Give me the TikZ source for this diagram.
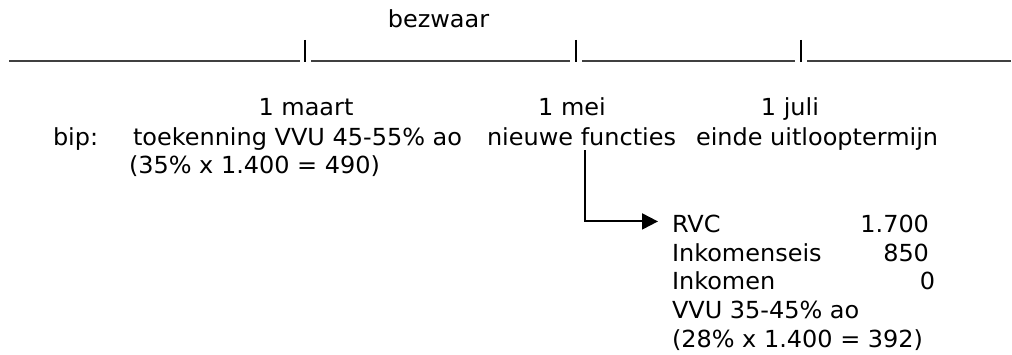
\documentclass[tikz,border=0pt]{standalone}
\usepackage{fontspec}
\setmainfont{DejaVu Sans}[FakeStretch=1.02]
\usetikzlibrary{arrows.meta}
\tikzset{
  txt/.style={inner sep=0pt, outer sep=0pt, font=\fontsize{23.5}{28}\selectfont, text=black},
  lw/.style={anchor=base west},
  lc/.style={anchor=base},
  le/.style={anchor=base east},
  tl/.style={line width=1.4pt, draw=black!75},
  bar/.style={line width=2pt, draw=black},
  arr/.style={line width=2pt, draw=black, -{Triangle[length=16pt,width=16pt]}}
}
\begin{document}
\begin{tikzpicture}[x=1pt,y=-1pt]
\useasboundingbox (0,0) rectangle (1012,355);
% timeline
\draw[tl] (9,61) -- (300,61);
\draw[tl] (311,61) -- (570,61);
\draw[tl] (582,61) -- (795,61);
\draw[tl] (807,61) -- (1011,61);
\draw[bar] (305,40) -- (305,62);
\draw[bar] (576,40) -- (576,62);
\draw[bar] (801,40) -- (801,62);
% labels
\node[txt,lc] (bez) at (438.5,28) {bezwaar};
\node[txt,lc] (maart) at (306,116) {1 maart};
\node[txt,lc] (mei) at (572,116) {1 mei};
\node[txt,lc] (juli) at (790,116) {1 juli};
\node[txt,lw] (bip) at (53,146) {bip:};
\node[txt,lw] (toek) at (133,146) {toekenning VVU 45-55\% ao};
\node[txt,lw] (nf) at (487,146) {nieuwe functies};
\node[txt,lw] (einde) at (696,146) {einde uitlooptermijn};
\node[txt,lw] (calc1) at (129,174) {(35\% x 1.400 = 490)};
% block
\node[txt,lw] (rvc) at (672,233) {RVC};
\node[txt,lw] (ieis) at (672,262) {Inkomenseis};
\node[txt,lw] (ink) at (672,290) {Inkomen};
\node[txt,lw] (vvu) at (672,319) {VVU 35-45\% ao};
\node[txt,lw] (calc2) at (672,347) {(28\% x 1.400 = 392)};
\node[txt,le] (v1) at (929,233) {1.700};
\node[txt,le] (v2) at (929,262) {850};
\node[txt,le] (v3) at (935,290) {0};
% connector
\draw[arr, shorten <=4pt, shorten >=14pt] ([xshift=98pt]nf.south west) |- ([yshift=3pt]rvc.west);
\end{tikzpicture}
\end{document}
